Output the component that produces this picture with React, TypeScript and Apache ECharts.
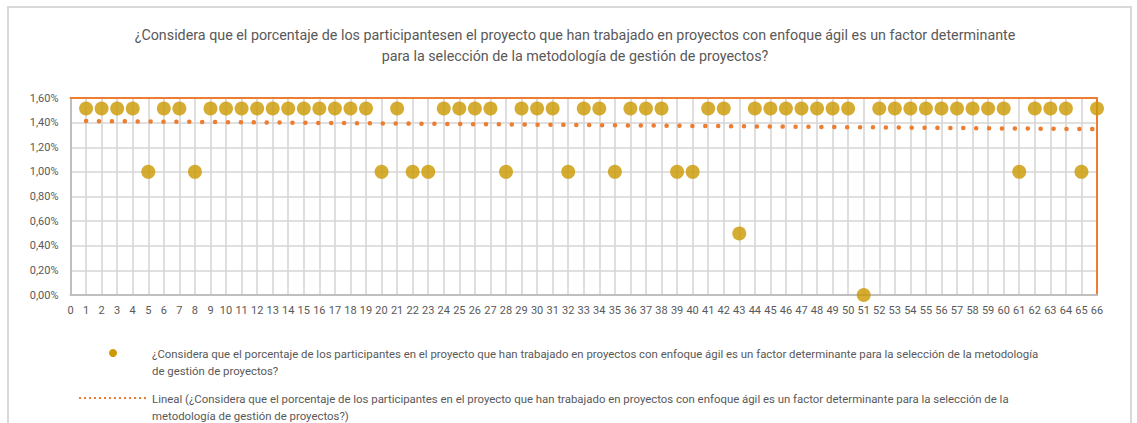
import React, { useEffect, useRef } from "react";
import * as echarts from "echarts";

// Participant index along the horizontal axis
const participants: number[] = Array.from({ length: 66 }, (_, i) => i + 1);

// Percentage (in %) reported for each participant, in participant order
const shares: number[] = [
  1.515, 1.515, 1.515, 1.515, 1.0, 1.515, 1.515, 1.0, 1.515, 1.515,
  1.515, 1.515, 1.515, 1.515, 1.515, 1.515, 1.515, 1.515, 1.515, 1.0,
  1.515, 1.0, 1.0, 1.515, 1.515, 1.515, 1.515, 1.0, 1.515, 1.515,
  1.515, 1.0, 1.515, 1.515, 1.0, 1.515, 1.515, 1.515, 1.0, 1.0,
  1.515, 1.515, 0.5, 1.515, 1.515, 1.515, 1.515, 1.515, 1.515, 1.515,
  0.0, 1.515, 1.515, 1.515, 1.515, 1.515, 1.515, 1.515, 1.515, 1.515,
  1.0, 1.515, 1.515, 1.515, 1.0, 1.515,
];

// Linear trend line endpoints: [participant, %]
const trendStart: [number, number] = [1, 1.413];
const trendEnd: [number, number] = [66, 1.347];

const yTicks = { min: 0, max: 1.6, interval: 0.2 };
const xTicks = { min: 0, max: 66, interval: 1 };

const titleLines = [
  "¿Considera que el porcentaje de los participantesen el proyecto que han trabajado en proyectos con enfoque ágil es un factor determinante",
  "para la selección de la metodología de gestión de proyectos?",
];
const seriesLegend = [
  "¿Considera que el porcentaje de los participantes en el proyecto que han trabajado en proyectos con enfoque ágil es un factor determinante para la selección de la metodología",
  "de gestión de proyectos?",
];
const trendLegend = [
  "Lineal (¿Considera que el porcentaje de los participantes en el proyecto que han trabajado en proyectos con enfoque ágil es un factor determinante para la selección de la",
  "metodología de gestión de proyectos?)",
];

const GOLD = "#CC9900";
const ORANGE = "#ED7D31";
const TEXT = "#595959";
const GRID = "#d6d6d6";
const FONT = "Roboto, 'Open Sans', sans-serif";

export default function App() {
  const ref = useRef<HTMLDivElement>(null);

  useEffect(() => {
    if (!ref.current) return;
    const chart = echarts.init(ref.current, undefined, { renderer: "svg" });
    const points = participants.map((p, i) => [p, shares[i]]);
    const pct = (v: number) => v.toFixed(2).replace(".", ",") + "%";

    chart.setOption({
      animation: false,
      backgroundColor: "#ffffff",
      textStyle: { fontFamily: FONT },
      title: {
        text: titleLines.join("\n"),
        left: 570,
        top: 19,
        textAlign: "center",
        textStyle: {
          fontFamily: FONT,
          fontSize: 14.3,
          fontWeight: "normal",
          color: TEXT,
          lineHeight: 21,
        },
      },
      grid: { left: 70.5, right: 40, top: 98, bottom: 128, containLabel: false },
      xAxis: [
        {
          type: "value",
          position: "bottom",
          ...xTicks,
          axisLine: { show: true, lineStyle: { color: "#bfbfbf", width: 2 } },
          axisTick: { show: false },
          splitLine: { show: true, lineStyle: { color: GRID, width: 1.6 } },
          axisLabel: {
            color: TEXT,
            fontSize: 11,
            fontFamily: FONT,
            margin: 10,
            showMinLabel: true,
            showMaxLabel: true,
          },
        },
        {
          type: "value",
          position: "top",
          ...xTicks,
          axisLine: { show: true, onZero: false, lineStyle: { color: ORANGE, width: 2 } },
          axisTick: { show: false },
          axisLabel: { show: false },
          splitLine: { show: false },
        },
      ],
      yAxis: [
        {
          type: "value",
          position: "left",
          ...yTicks,
          axisLine: { show: true, lineStyle: { color: "#bfbfbf", width: 2 } },
          axisTick: { show: false },
          splitLine: { show: true, lineStyle: { color: GRID, width: 1.6 } },
          axisLabel: {
            color: TEXT,
            fontSize: 11,
            fontFamily: FONT,
            margin: 12,
            formatter: pct,
          },
        },
        {
          type: "value",
          position: "right",
          ...yTicks,
          axisLine: { show: true, onZero: false, lineStyle: { color: ORANGE, width: 2 } },
          axisTick: { show: false },
          axisLabel: { show: false },
          splitLine: { show: false },
        },
      ],
      series: [
        {
          name: "trend",
          type: "line",
          xAxisIndex: 0,
          yAxisIndex: 0,
          data: [trendStart, trendEnd],
          showSymbol: false,
          symbol: "none",
          clip: false,
          lineStyle: { color: ORANGE, width: 4.5, type: [0.1, 12.8], cap: "round" },
          z: 2,
        },
        {
          name: "share",
          type: "scatter",
          xAxisIndex: 0,
          yAxisIndex: 0,
          data: points,
          symbol: "circle",
          symbolSize: 14,
          clip: false,
          itemStyle: { color: GOLD },
          z: 3,
        },
      ],
      graphic: [
        {
          type: "rect",
          shape: { x: 8, y: 7, width: 1123, height: 440 },
          style: { fill: "none", stroke: "#d9d9d9", lineWidth: 2 },
          silent: true,
        },
        {
          type: "circle",
          shape: { cx: 113, cy: 353, r: 4 },
          style: { fill: GOLD },
        },
        {
          type: "text",
          x: 152,
          y: 345,
          style: {
            text: seriesLegend.join("\n"),
            fill: TEXT,
            font: `11.4px ${FONT}`,
            lineHeight: 17,
          },
        },
        {
          type: "line",
          shape: { x1: 79, y1: 398, x2: 148, y2: 398 },
          style: { stroke: ORANGE, lineWidth: 2, lineDash: [2, 3] },
        },
        {
          type: "text",
          x: 152,
          y: 390,
          style: {
            text: trendLegend.join("\n"),
            fill: TEXT,
            font: `11.4px ${FONT}`,
            lineHeight: 17,
          },
        },
      ],
    });

    return () => chart.dispose();
  }, []);

  return (
    <div
      ref={ref}
      style={{ position: "absolute", left: 0, top: 0, width: 1137, height: 423 }}
    />
  );
}
